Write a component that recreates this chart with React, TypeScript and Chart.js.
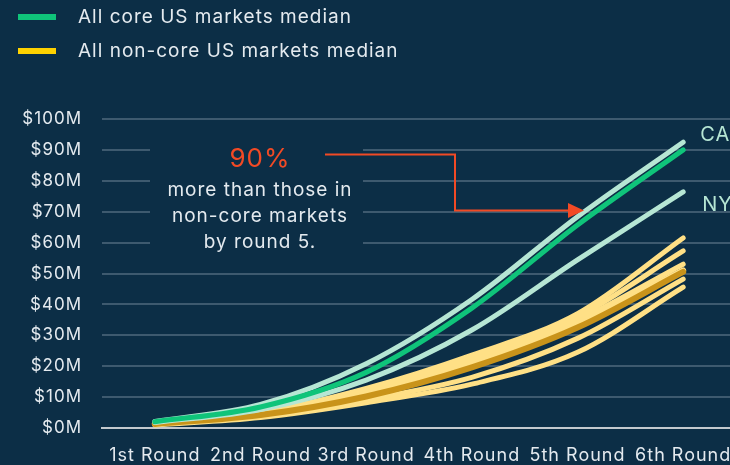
import React, { useEffect, useRef } from "react";
import { Chart, registerables } from "chart.js";

Chart.register(...registerables);

// ---- Data ----
const rounds = ["1st Round", "2nd Round", "3rd Round", "4th Round", "5th Round", "6th Round"];
const coreMedian = [2.0, 6.8, 18.0, 38.8, 65.7, 90.0];
const caValues = [2.1, 7.6, 20.8, 41.6, 68.4, 92.5];
const nyValues = [1.8, 6.0, 15.5, 31.7, 54.4, 76.4];
const nonCoreMedian = [1.3, 4.2, 10.2, 19.6, 32.5, 50.5];
const nonCoreA = [1.5, 5.0, 12.8, 23.6, 37.0, 61.5];
const nonCoreB = [1.5, 4.9, 12.3, 22.8, 36.0, 57.3];
const nonCoreC = [1.4, 4.6, 11.6, 21.6, 34.8, 53.0];
const nonCoreD = [1.3, 4.4, 11.0, 20.6, 33.6, 51.0];
const nonCoreE = [1.2, 3.9, 9.2, 16.4, 29.0, 48.2];
const nonCoreF = [1.0, 3.4, 8.2, 14.2, 24.5, 45.6];
const yTickValues = [0, 10, 20, 30, 40, 50, 60, 70, 80, 90, 100];
const legendLabels = ["All core US markets median", "All non-core US markets median"];
const calloutValue = "90%";
const calloutLines = ["more than those in", "non-core markets", "by round 5."];
const endLabels = ["CA", "NY"];

// ---- Styles ----
const BG = "#0c2e46";
const GREEN = "#0fc47a";
const MINT = "#b6e6d4";
const GOLD = "#c9931a";
const PALE = "#ffe086";
const LEGEND_YELLOW = "#ffd200";
const RED = "#f24a25";
const TEXT = "#e4eaef";
const GRID = "#3e5a6f";
const FONT = "Inter, 'Noto Sans', sans-serif";
const SPACING = "1px";

const overlayPlugin = {
  id: "overlay",
  beforeDraw(chart: any) {
    const { ctx, width, height } = chart;
    (ctx as any).letterSpacing = SPACING;
    ctx.save();
    ctx.fillStyle = BG;
    ctx.fillRect(0, 0, width, height);
    ctx.restore();
  },
  beforeDatasetsDraw(chart: any) {
    const { ctx } = chart;
    ctx.save();
    // box masking gridlines behind the callout text
    ctx.fillStyle = BG;
    ctx.fillRect(150, 134, 213, 126);
    ctx.restore();
  },
  afterDraw(chart: any) {
    const { ctx, scales } = chart;
    const xs = scales.x;
    const ys = scales.y;
    ctx.save();
    (ctx as any).letterSpacing = SPACING;
    // legend
    const legendColors = [GREEN, LEGEND_YELLOW];
    legendLabels.forEach((t, i) => {
      const y = 17 + i * 34;
      ctx.fillStyle = legendColors[i];
      ctx.fillRect(18, y - 3, 38, 6);
      ctx.fillStyle = TEXT;
      ctx.font = `19px ${FONT}`;
      ctx.textBaseline = "middle";
      ctx.textAlign = "left";
      ctx.fillText(t, 78, y);
    });
    // callout
    ctx.textAlign = "center";
    ctx.fillStyle = RED;
    ctx.font = `26px ${FONT}`;
    ctx.fillText(calloutValue, 260, 159);
    ctx.fillStyle = TEXT;
    ctx.font = `19px ${FONT}`;
    calloutLines.forEach((t, i) => ctx.fillText(t, 260, 190 + i * 26));
    // arrow
    ctx.strokeStyle = RED;
    ctx.lineWidth = 2;
    ctx.beginPath();
    ctx.moveTo(325, 154.5);
    ctx.lineTo(455, 154.5);
    ctx.lineTo(455, 210.5);
    ctx.lineTo(570, 210.5);
    ctx.stroke();
    ctx.fillStyle = RED;
    ctx.beginPath();
    ctx.moveTo(568, 203);
    ctx.lineTo(584, 210.5);
    ctx.lineTo(568, 218);
    ctx.closePath();
    ctx.fill();
    // end labels
    ctx.fillStyle = MINT;
    ctx.font = `20px ${FONT}`;
    ctx.textAlign = "left";
    const xEnd = xs.getPixelForValue(5);
    ctx.fillText(endLabels[0], xEnd + 17, ys.getPixelForValue(caValues[5]) - 7);
    ctx.fillText(endLabels[1], xEnd + 19, ys.getPixelForValue(nyValues[5]) + 13);
    ctx.restore();
  },
};

function line(data: number[], color: string, width: number) {
  return {
    data,
    borderColor: color,
    backgroundColor: color,
    borderWidth: width,
    borderCapStyle: "round" as const,
    borderJoinStyle: "round" as const,
    pointRadius: 0,
    pointHoverRadius: 0,
    cubicInterpolationMode: "monotone" as const,
    fill: false,
  };
}

export default function App() {
  const ref = useRef<HTMLCanvasElement | null>(null);
  useEffect(() => {
    if (!ref.current) return;
    const chart = new Chart(ref.current, {
      type: "line",
      data: {
        labels: rounds,
        datasets: [
          line(coreMedian, GREEN, 5),
          line(caValues, MINT, 5),
          line(nyValues, MINT, 5),
          line(nonCoreMedian, GOLD, 6),
          line(nonCoreA, PALE, 5),
          line(nonCoreB, PALE, 5),
          line(nonCoreC, PALE, 5),
          line(nonCoreD, PALE, 6),
          line(nonCoreE, PALE, 5),
          line(nonCoreF, PALE, 5),
        ],
      },
      options: {
        responsive: false,
        animation: false,
        devicePixelRatio: 1,
        layout: { padding: { top: 119, right: 24, left: 0, bottom: 0 } },
        plugins: { legend: { display: false }, tooltip: { enabled: false } },
        scales: {
          x: {
            offset: true,
            grid: { display: false, drawTicks: false },
            border: { display: true, color: "#c3c9ce", width: 2 },
            ticks: {
              color: TEXT,
              font: { family: FONT, size: 18 },
              padding: 17,
              maxRotation: 0,
              autoSkip: false,
            },
            afterFit: (s: any) => {
              s.height = 37;
            },
          },
          y: {
            min: 0,
            max: 100,
            afterBuildTicks: (s: any) => {
              s.ticks = yTickValues.map((v) => ({ value: v }));
            },
            grid: {
              drawTicks: false,
              color: (c: any) => (c.tick && c.tick.value === 0 ? "rgba(0,0,0,0)" : GRID),
              lineWidth: 2,
            },
            border: { display: false },
            ticks: {
              color: TEXT,
              font: { family: FONT, size: 17 },
              padding: 20,
              callback: (v: any) => `$${v}M`,
            },
            afterFit: (s: any) => {
              s.width = 102;
            },
          },
        },
      },
      plugins: [overlayPlugin],
    });
    return () => chart.destroy();
  }, []);
  return (
    <div style={{ position: "fixed", left: 0, top: 0, width: 760, height: 465, background: BG }}>
      <canvas ref={ref} width={760} height={465} style={{ width: 760, height: 465, display: "block" }} />
    </div>
  );
}
